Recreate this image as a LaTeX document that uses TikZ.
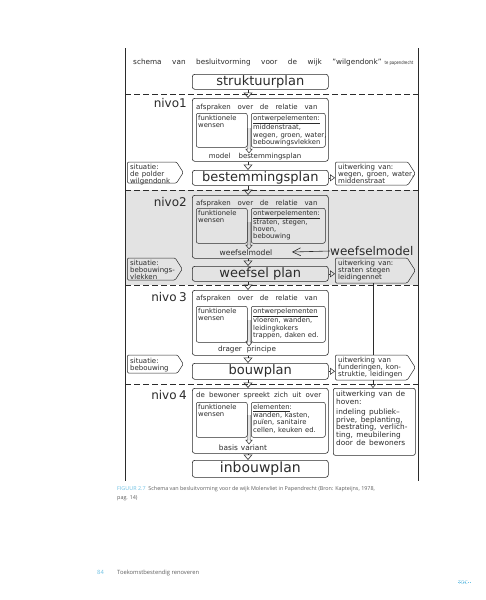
\documentclass[tikz,border=0pt]{standalone}
\usepackage{fontspec}
\usepackage{graphicx}
\setmainfont{DejaVu Sans}
\newfontfamily\capf{Open Sans}
\usetikzlibrary{arrows.meta,shapes.symbols}
\definecolor{ink}{HTML}{2B2B2B}
\definecolor{greybg}{HTML}{E3E3E3}
\definecolor{capblue}{HTML}{6EC1E4}
\definecolor{capgray}{HTML}{5E5E5E}
\newcommand\spc[1]{\spaceskip #1\relax}
\newcommand\fs[3]{\fontsize{#1}{#2}\selectfont\spaceskip #3\relax}
\newcommand\dblarr[3]{\draw[ink, line width=0.5pt, line join=miter] (#1-1.2,#2) -- (#1-1.2,#3-4) -- (#1-3.2,#3-4) -- (#1,#3) -- (#1+3.2,#3-4) -- (#1+1.2,#3-4) -- (#1+1.2,#2);}
\tikzset{
 box/.style={draw=ink, line width=0.6pt, rounded corners=2.5pt, anchor=north west, inner sep=0pt, minimum width=136pt},
 inbox/.style={draw=ink, line width=0.5pt, rounded corners=2pt, anchor=north west, inner sep=0pt},
 big/.style={font=\fs{13}{14}{4pt}, text=ink},
 sm/.style={font=\fs{6.8}{7.2}{2.6pt}, text=ink, inner sep=0pt, anchor=north west, align=left},
 sg/.style={font=\fs{7}{7.2}{3pt}, text=ink, inner sep=0pt, anchor=north west, align=left},
 hd/.style={font=\fs{7}{8}{6.8pt}, text=ink, inner sep=0pt, anchor=base west},
 smb/.style={font=\fs{7}{8}{5pt}, text=ink, inner sep=0pt, anchor=base},
 sig/.style={draw=ink, line width=0.5pt, shape=signal, signal to=east, signal pointer angle=115, inner sep=0pt, anchor=west, rounded corners=1.2pt},
 dl/.style={draw=ink, line width=0.6pt, dash pattern=on 6pt off 3pt},
 tri/.style={draw=ink, line width=0.6pt, -{Triangle[open,length=5.5pt,width=9pt]}},
 rtri/.style={draw=ink, line width=0.5pt, -{Triangle[open,length=5pt,width=7pt]}},
 nivo/.style={font=\fs{12}{13}{2.5pt}, anchor=base east, inner sep=0pt, text=ink},
}
\begin{document}
\begin{tikzpicture}[x=1pt,y=-1pt]
\useasboundingbox (0,0) rectangle (486,600);
\fill[white] (0,0) rectangle (486,600);
\fill[greybg] (125,190) rectangle (418,285);
\draw[ink,line width=0.6pt] (125,48) -- (125,481);
\draw[ink,line width=0.6pt] (418,48) -- (418,481);
\foreach \yy in {94,190,285,384} {\draw[dl] (125,\yy) -- (418,\yy);}
\coordinate (ax) at (248,0);
\coordinate (vx) at (373,0);
% title
\node[anchor=base west, inner sep=0pt, text=ink, font=\fs{7.3}{8}{10.5pt}] (title) at (133,64) {schema van besluitvorming voor de wijk "wilgendonk"\hspace{3pt}\scalebox{0.8}[1]{\fs{4.7}{5}{1.5pt}te papendrecht}};
% main column
\node[box, minimum height=15pt, big] (struk) at (192,74) {struktuurplan};
\node[box, minimum height=63pt] (n1) at (192,98) {};
\node[box, minimum height=15pt, big] (bestem) at (192,170) {bestemmingsplan};
\node[box, minimum height=63pt] (n2) at (192,195) {};
\node[box, minimum height=15pt, big] (weef) at (192,266) {weefsel plan};
\node[box, minimum height=65pt] (n3) at (192,290) {};
\node[box, minimum height=16pt, big] (bouw) at (192,363) {bouwplan};
\node[box, minimum height=65pt] (n4) at (192,388) {};
\node[box, minimum height=17pt, big, font=\fs{14}{15}{4pt}] (inbouw) at (192,460) {inbouwplan};
\draw[tri] (struk.south -| ax) -- (n1.north -| ax);
\draw[tri] (n1.south -| ax) -- (bestem.north -| ax);
\draw[tri] (bestem.south -| ax) -- (n2.north -| ax);
\draw[tri] (n2.south -| ax) -- (weef.north -| ax);
\draw[tri] (weef.south -| ax) -- (n3.north -| ax);
\draw[tri] (n3.south -| ax) -- (bouw.north -| ax);
\draw[tri] (bouw.south -| ax) -- (n4.north -| ax);
\draw[tri] (n4.south -| ax) -- (inbouw.north -| ax);
% nivo labels
\node[nivo] (l1) at (187,107) {nivo1};
\node[nivo] (l2) at (187,206) {nivo2};
\node[nivo] (l3) at (187,301) {nivo 3};
\node[nivo] (l4) at (187,399) {nivo 4};
% nivo 1 content
\node[hd] (h1) at (196,109) {afspraken over de relatie van};
\node[inbox, minimum width=51pt, minimum height=34pt] (n1l) at (196,113) {};
\node[inbox, minimum width=74pt, minimum height=34pt] (n1r) at (251,113) {};
\node[sm] (t1l) at (198,115) {funktionele\\wensen};
\node[sm] (t1r) at (253,115) {\underline{ontwerpelementen:}\\middenstraat,\\wegen, groen, water,\\bebouwingsvlekken};
\dblarr{249}{128}{153}
\node[smb, font=\fs{7}{8}{8pt}] (f1) at (255,158) {model bestemmingsplan};
% nivo 2 content
\node[hd] (h2) at (196,205) {afspraken over de relatie van};
\node[inbox, minimum width=51pt, minimum height=35pt] (n2l) at (196,208) {};
\node[inbox, minimum width=74pt, minimum height=35pt] (n2r) at (251,208) {};
\node[sm] (t2l) at (198,210) {funktionele\\wensen};
\node[sm] (t2r) at (253,210) {\underline{ontwerpelementen:}\\straten, stegen,\\hoven,\\bebouwing};
\dblarr{249}{222}{249}
\node[smb, font=\fs{7.6}{8}{3pt}] (f2) at (246,255) {weefselmodel};
% nivo 3 content
\node[hd] (h3) at (196,300) {afspraken over de relatie van};
\node[inbox, minimum width=51pt, minimum height=36pt] (n3l) at (196,306) {};
\node[inbox, minimum width=74pt, minimum height=36pt] (n3r) at (251,306) {};
\node[sm] (t3l) at (198,308) {funktionele\\wensen};
\node[sm] (t3r) at (253,308) {\underline{ontwerpelementen}\\vloeren, wanden,\\leidingkokers\\trappen, daken ed.};
\dblarr{249}{320}{346}
\node[smb, font=\fs{7.2}{8}{5pt}] (f3) at (247,351) {drager principe};
% nivo 4 content
\node[hd, font=\fs{7}{8}{4.2pt}] (h4) at (196,397) {de bewoner spreekt zich uit over};
\node[inbox, minimum width=51pt, minimum height=35pt] (n4l) at (196,402) {};
\node[inbox, minimum width=74pt, minimum height=35pt] (n4r) at (251,402) {};
\node[sm] (t4l) at (198,404) {funktionele\\wensen};
\node[sm] (t4r) at (253,404) {\underline{elementen}:\\wanden, kasten,\\puïen, sanitaire\\cellen, keuken ed.};
\dblarr{249}{415}{444}
\node[smb, font=\fs{7.4}{8}{3pt}] (f4) at (243,450) {basis variant};
% situatie signals
\node[sig, minimum width=56pt, minimum height=21pt] (s1) at (127,172.5) {};
\node[sg] (ts1) at (130,164) {situatie:\\de polder\\wilgendonk};
\node[sig, minimum width=55pt, minimum height=22pt] (s2) at (127,269) {};
\node[sg] (ts2) at (130,260) {situatie:\\bebouwings-\\vlekken};
\node[sig, minimum width=56pt, minimum height=18pt] (s3) at (127,364) {};
\node[sg] (ts3) at (130,357.5) {situatie:\\bebouwing};
% uitwerking signals
\node[sig, minimum width=80pt, minimum height=23pt] (u1) at (335,173.5) {};
\node[sg] (tu1) at (338,164) {uitwerking van:\\wegen, groen, water,\\middenstraat};
\node[sig, minimum width=80pt, minimum height=25pt] (u2) at (335,270.5) {};
\node[sg] (tu2) at (338,260) {uitwerking van:\\straten stegen\\leidingennet};
\node[sig, minimum width=80pt, minimum height=25pt] (u3) at (335,367.5) {};
\node[sg] (tu3) at (338,357) {uitwerking van\\funderingen, kon-\\struktie, leidingen};
\node[inbox, line width=0.6pt, minimum width=82pt, minimum height=67pt] (hoven) at (333,388) {};
\node[sg, font=\fs{7.4}{7.9}{3.5pt}] (th) at (336,391) {uitwerking van de\\hoven:\\[1.5pt]indeling publiek–\\prive, beplanting,\\bestrating, verlich-\\ting, meubilering\\door de bewoners};
\draw[rtri] (bestem.east) -- (bestem.east -| u1.west);
\draw[rtri] (weef.east) -- (weef.east -| u2.west);
\draw[rtri] (bouw.east) -- (bouw.east -| u3.west);
\draw[ink, line width=0.5pt] (u2.south -| vx) -- (u3.north -| vx);
\draw[ink, line width=0.5pt, -{Triangle[open,length=4pt,width=6pt]}] (u3.south -| vx) -- (hoven.north -| vx);
% weefselmodel
\node[anchor=west, inner sep=0pt, text=ink, font=\fontsize{12}{13}\selectfont] (wm) at (330,251) {weefselmodel};
\coordinate (wmt) at (292,252);
\draw[ink, line width=0.6pt, -{Straight Barb[length=8pt,width=8pt]}] (wm.west) -- (wmt);
% caption
\node[anchor=base west, inner sep=0pt, align=left, text=capgray, font=\capf\fontsize{5.4}{8.5}\selectfont] (cap) at (117,499) {\textcolor{capblue}{FIGUUR 2.7}\ \ Schema van besluitvorming voor de wijk Molenvliet in Papendrecht (Bron: Kapteijns, 1978,\\pag. 14)};
% footer
\node[anchor=base west, inner sep=0pt, text=capblue, font=\capf\fontsize{5.8}{7}\selectfont] (pg) at (97,574) {84};
\node[anchor=base west, inner sep=0pt, text=capgray, font=\capf\fontsize{5.8}{7}\selectfont] (ft) at (117,574) {Toekomstbestendig renoveren};
\node[anchor=base, inner sep=0pt, text=capblue, font=\capf\fontsize{5}{6}\selectfont] (toc) at (463,584) {TOC};
\draw[capblue, line width=0.4pt, dotted] (toc.south west) ++(0,-2) -- ++(14,0);
\end{tikzpicture}
\end{document}
